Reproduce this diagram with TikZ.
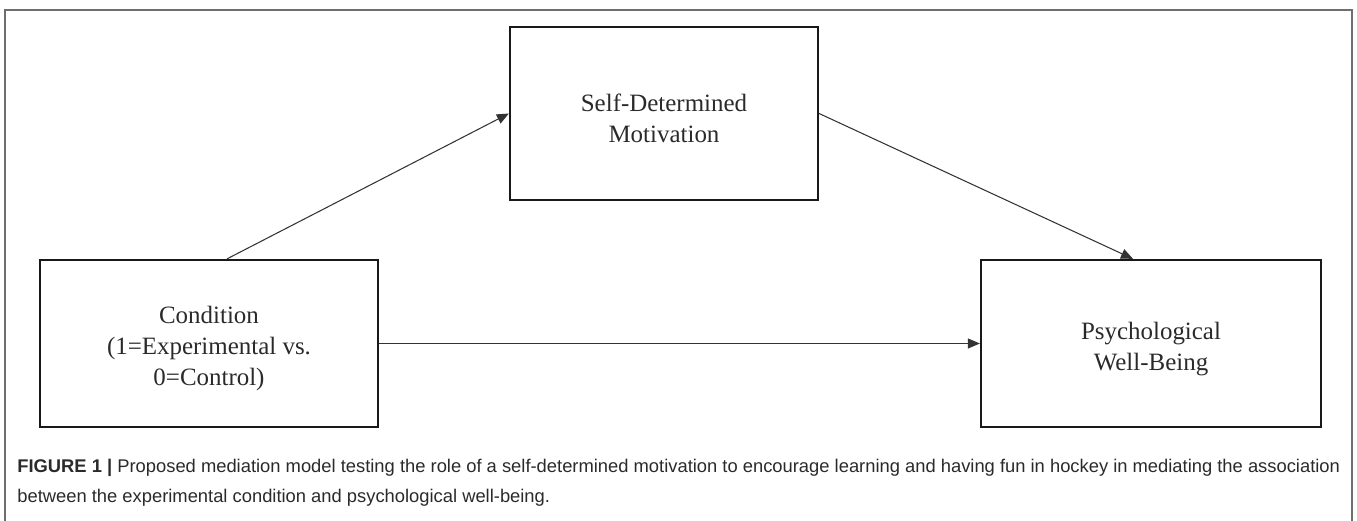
\documentclass[tikz,border=0pt]{standalone}
\usepackage{fontspec}
\setmainfont{Liberation Serif}
\newfontfamily\capfont{Liberation Sans}
\usetikzlibrary{arrows.meta}

\definecolor{framegray}{HTML}{6E6E6E}
\definecolor{textgray}{HTML}{2A2A2A}
\newcommand\toprule{\rule{0pt}{16pt}}

\tikzset{
  Box/.style={draw=black!90, line width=1.3pt, align=center, text=textgray,
    font=\fontsize{14.2}{17.6}\selectfont},
  Path/.style={draw=black!80, line width=0.6pt,
    -{Triangle[length=0.24cm,width=0.2cm]}}
}

\begin{document}
\begin{tikzpicture}[x=0.02cm,y=-0.02cm]
\useasboundingbox (0,0) rectangle (1357,521);
\draw[framegray, line width=0.7pt] (5,521) -- (5,10) -- (1352,10) -- (1352,521);
\node[Box, minimum width=6.16cm, minimum height=3.46cm] (Mot) at (664,113.5) {\toprule Self-Determined\\Motivation};
\node[Box, minimum width=6.76cm, minimum height=3.34cm] (Cond) at (209,343.5) {\toprule Condition\\(1=Experimental vs.\\0=Control)};
\node[Box, minimum width=6.80cm, minimum height=3.34cm] (Well) at (1151,343.5) {\toprule Psychological\\Well-Being};
\draw[Path] ([xshift=0.36cm]Cond.north) -- (Mot.west);
\draw[Path] (Mot.east) -- ([xshift=-0.36cm]Well.north);
\draw[Path] (Cond.east) -- (Well.west);
\node[anchor=north west, align=left, inner sep=0pt, text=textgray,
  font=\capfont\fontsize{10.45}{17}\selectfont] (Cap) at (17,459)
  {\textbf{FIGURE 1 |} Proposed mediation model testing the role of a self-determined motivation to encourage learning and having fun in hockey in mediating the association\\
   between the experimental condition and psychological well-being.};
\end{tikzpicture}
\end{document}
